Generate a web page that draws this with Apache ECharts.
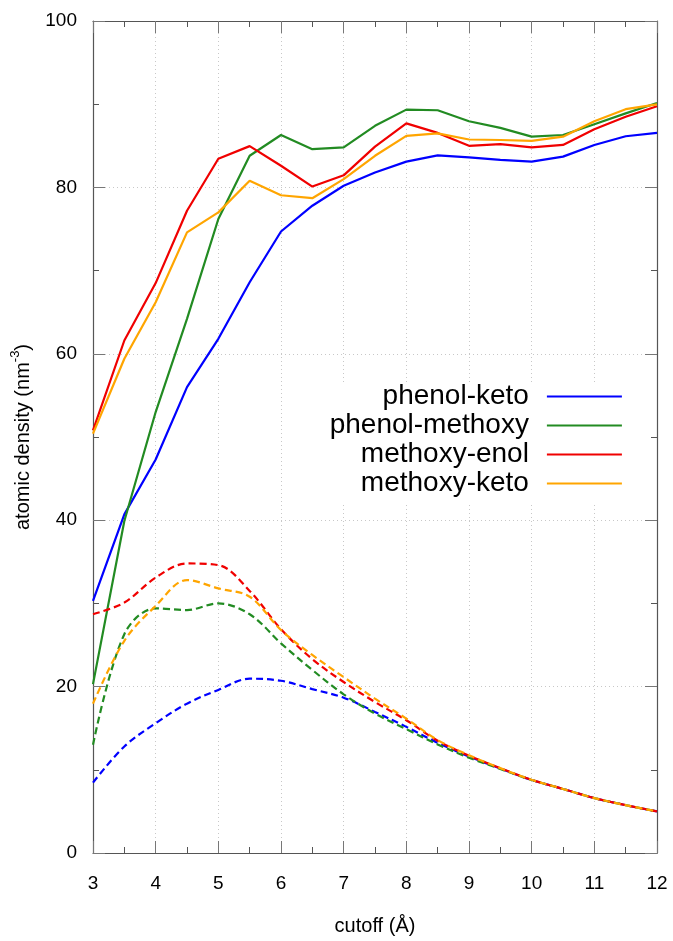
<!DOCTYPE html>
<html>
<head>
<meta charset="utf-8">
<script src="https://cdn.jsdelivr.net/npm/echarts@6/dist/echarts.min.js"></script>
<style>
html,body{margin:0;padding:0;background:#fff;}
#chart{width:673px;height:941px;}
</style>
</head>
<body>
<div id="chart"></div>
<script>
const cutoff = [3,3.5,4,4.5,5,5.5,6,6.5,7,7.5,8,8.5,9,9.5,10,10.5,11,11.5,12];
const seriesNames = ['phenol-keto','phenol-methoxy','methoxy-enol','methoxy-keto'];
const colors = ['#0000ff','#228b22','#f00000','#ffa500'];

const phenolKetoSolid    = [30.3,40.7,47.3,56.0,61.8,68.6,74.7,77.8,80.2,81.8,83.1,83.85,83.6,83.3,83.1,83.7,85.1,86.15,86.55];
const phenolMethoxySolid = [20.3,39.9,53.0,64.2,76.2,83.8,86.3,84.6,84.8,87.4,89.35,89.27,87.95,87.15,86.1,86.3,87.6,88.9,90.15];
const methoxyEnolSolid   = [50.8,61.6,68.5,77.2,83.45,84.96,82.6,80.1,81.45,84.9,87.7,86.55,85.0,85.2,84.8,85.1,87.0,88.5,89.75];
const methoxyKetoSolid   = [50.4,59.4,66.2,74.6,77.0,80.8,79.06,78.7,81.0,83.8,86.2,86.5,85.76,85.7,85.6,86.1,87.95,89.4,89.98];

const phenolKetoDashed    = [8.46,12.8,15.6,17.95,19.6,20.95,20.7,19.7,18.67,16.96,15.16,13.25,11.6,10.15,8.78,7.7,6.6,5.75,5.0];
const phenolMethoxyDashed = [13.0,26.3,29.4,29.2,30.0,28.7,25.2,22.0,19.07,16.75,14.88,13.05,11.45,10.1,8.78,7.7,6.6,5.75,5.0];
const methoxyEnolDashed   = [28.7,30.1,33.1,34.8,34.6,31.5,26.9,23.3,20.55,18.15,15.96,13.49,11.7,10.2,8.8,7.7,6.6,5.75,5.0];
const methoxyKetoDashed   = [17.95,25.5,29.7,32.8,31.8,30.8,26.8,23.8,21.15,18.55,16.15,13.57,11.75,10.2,8.8,7.7,6.6,5.75,5.0];

const xTicks = [3,4,5,6,7,8,9,10,11,12];
const yTicks = [0,20,40,60,80,100];

const solidData = [phenolKetoSolid, phenolMethoxySolid, methoxyEnolSolid, methoxyKetoSolid];
const dashedData = [phenolKetoDashed, phenolMethoxyDashed, methoxyEnolDashed, methoxyKetoDashed];

const FONT = 'Liberation Sans, Arial, Helvetica, sans-serif';
const pair = arr => cutoff.map((x, i) => [x, arr[i]]);

const series = [];
solidData.forEach((d, i) => {
  series.push({
    name: seriesNames[i], type: 'line', data: pair(d), symbol: 'none',
    lineStyle: { color: colors[i], width: 2.2 }, itemStyle: { color: colors[i] }, z: 3
  });
});
dashedData.forEach((d, i) => {
  series.push({
    name: seriesNames[i] + ' (first shell)', type: 'line', data: pair(d), symbol: 'none', smooth: 0.35,
    lineStyle: { color: colors[i], width: 2.2, type: [7, 4] }, itemStyle: { color: colors[i] }, z: 3
  });
});

const gridLine = { show: true, lineStyle: { color: '#c8c8c8', width: 1, type: [1, 3] } };
const axisLine = { show: true, onZero: false, lineStyle: { color: '#555', width: 1.2 } };
const tick = { show: true, inside: true, length: 12, lineStyle: { color: '#777', width: 1 } };
const minor = { show: true, splitNumber: 2, length: 6, lineStyle: { color: '#555', width: 1 } };

const option = {
  animation: false,
  backgroundColor: '#fff',
  grid: { left: 93, right: 16, top: 21, bottom: 84, containLabel: false },
  legend: {
    data: seriesNames,
    orient: 'vertical',
    align: 'right',
    right: 36,
    top: 382,
    itemWidth: 75,
    itemHeight: 14,
    itemGap: 0,
    padding: [0, 14, 4, 8],
    backgroundColor: '#fff',
    selectedMode: false,
    itemStyle: { opacity: 0 },
    lineStyle: { width: 2.2 },
    textStyle: { fontFamily: FONT, fontSize: 28, color: '#000', lineHeight: 29, padding: [0, 13, 0, 0] }
  },
  xAxis: [
    {
      type: 'value', min: 3, max: 12, interval: 1, position: 'bottom',
      name: 'cutoff (Å)', nameLocation: 'middle', nameGap: 63,
      nameTextStyle: { fontFamily: FONT, fontSize: 20, color: '#000' },
      axisLine: axisLine, axisTick: tick, minorTick: minor, splitLine: gridLine,
      axisLabel: { fontFamily: FONT, fontSize: 19, color: '#000', margin: 21,
        formatter: v => xTicks.includes(v) ? String(v) : '' }
    },
    {
      type: 'value', min: 3, max: 12, interval: 1, position: 'top',
      axisLine: axisLine, axisTick: tick, minorTick: minor, splitLine: { show: false },
      axisLabel: { show: false }
    }
  ],
  yAxis: [
    {
      type: 'value', min: 0, max: 100, interval: 20, position: 'left',
      name: '{a|atomic density (nm}{s|-3}{a|)}', nameLocation: 'middle', nameGap: 60, nameRotate: 90,
      nameTextStyle: {
        fontFamily: FONT, color: '#000',
        rich: {
          a: { fontFamily: FONT, fontSize: 20, color: '#000', lineHeight: 24, verticalAlign: 'bottom' },
          s: { fontFamily: FONT, fontSize: 13, color: '#000', lineHeight: 24, verticalAlign: 'top' }
        }
      },
      axisLine: axisLine, axisTick: tick, minorTick: minor, splitLine: gridLine,
      axisLabel: { fontFamily: FONT, fontSize: 19, color: '#000', margin: 16,
        formatter: v => yTicks.includes(v) ? String(v) : '' }
    },
    {
      type: 'value', min: 0, max: 100, interval: 20, position: 'right',
      axisLine: axisLine, axisTick: tick, minorTick: minor, splitLine: { show: false },
      axisLabel: { show: false }
    }
  ],
  series: series
};

const chart = echarts.init(document.getElementById('chart'), null, { renderer: 'canvas' });
chart.setOption(option);
</script>
</body>
</html>
